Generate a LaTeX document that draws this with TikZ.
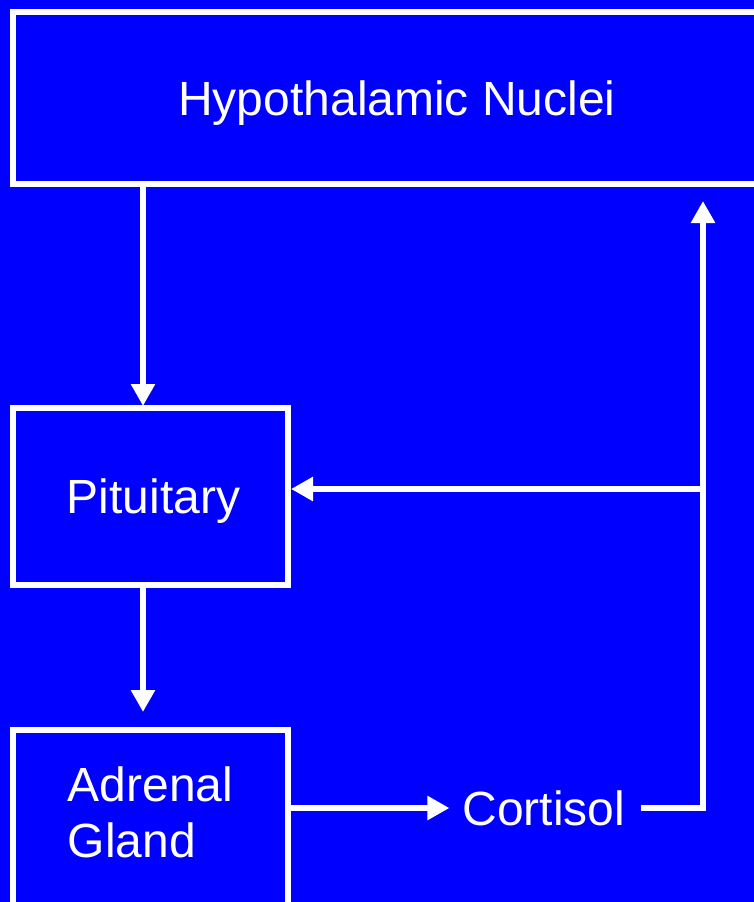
\documentclass[tikz,border=0pt]{standalone}
\usepackage{fontspec}
\setmainfont{Liberation Sans}
\usepackage{xcolor}
\usepackage{tikz}
\usetikzlibrary{arrows.meta, positioning, calc}

\definecolor{slideblue}{RGB}{0,0,255}

\begin{document}
\begin{tikzpicture}[
    x=1pt, y=-1pt,
    box/.style={draw=white, line width=6pt, rectangle, fill=slideblue, text=white, align=center, font=\fontsize{48}{56}\selectfont},
    label/.style={text=white, inner sep=15pt, font=\fontsize{48}{56}\selectfont},
    arrow/.style={-{Triangle[length=22pt, width=23pt]}, draw=white, line width=6pt},
    line/.style={draw=white, line width=6pt},
]

% Background
\fill[slideblue] (0,0) rectangle (754,902);
\useasboundingbox (0,0) rectangle (754,902);

% Boxes
\node[box, minimum width=768pt, minimum height=172pt, text depth=0pt] (hypo) at (397, 98) {Hypothalamic Nuclei};
\node[box, minimum width=275pt, minimum height=177pt, text depth=0pt] (pituitary) at (150.5, 496.5) {\hspace*{6pt}Pituitary};
\node[box, minimum width=275pt, minimum height=230pt, align=left] (adrenal) at (150.5, 845) {Adrenal\\Gland\\[10pt]};

% Hormone
\node[label] (cortisol) at (544, 808) {Cortisol};

% Helper points
\coordinate (fbtop) at (703, 201);
\coordinate (branch) at (703, 489);
\coordinate (pitin) at (143, 406);
\coordinate (adrin) at (143, 712);

% Arrows
\draw[arrow] (hypo.south -| pitin) -- (pitin);
\draw[arrow] (pituitary.south -| adrin) -- (adrin);
\draw[arrow] (adrenal.east |- cortisol) -- ([xshift=2pt]cortisol.west);
\draw[arrow] (cortisol.east) -| (fbtop);
\draw[arrow] (branch) -- (pituitary.east |- branch);

\end{tikzpicture}
\end{document}
